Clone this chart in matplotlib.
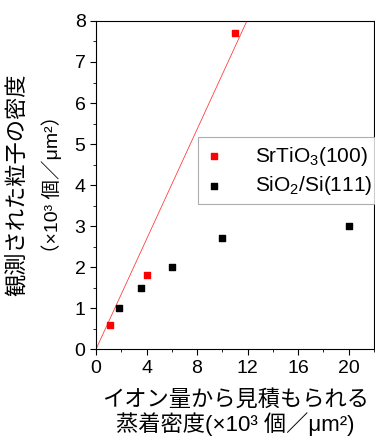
import numpy as np
import matplotlib
matplotlib.use("Agg")
import matplotlib.pyplot as plt
from matplotlib.ticker import MultipleLocator

plt.rcParams['font.family'] = ['Liberation Sans', 'Noto Sans CJK JP']
plt.rcParams['mathtext.fontset'] = 'custom'
plt.rcParams['mathtext.rm'] = 'Liberation Sans'
plt.rcParams['mathtext.it'] = 'Liberation Sans'

# data (x: ×10^3 個/μm², y: ×10^3 個/μm²)
sto_x = [1.1, 4.0, 11.0]
sto_y = [0.6, 1.8, 7.7]
sio_x = [1.8, 3.6, 6.0, 10.0, 20.0]
sio_y = [1.0, 1.5, 2.0, 2.7, 3.0]

sto_label = "SrTiO$_3$(100)"
sio_label = "SiO$_2$/Si(111)"

fig = plt.figure(figsize=(3.75, 4.37), dpi=100)
ax = fig.add_axes([0.256, 0.201, 0.741, 0.751])

# least squares line through origin for SrTiO3
sx = np.array(sto_x)
sy = np.array(sto_y)
slope = (sx * sy).sum() / (sx * sx).sum()
xl = np.array([0, 22])
ax.plot(xl, slope * xl, color='red', lw=0.6, alpha=0.75)

ax.scatter(sto_x, sto_y, marker='s', s=24, color='red', label=sto_label, zorder=3)
ax.scatter(sio_x, sio_y, marker='s', s=24, color='black', label=sio_label, zorder=3)

ax.set_xlim(0, 22)
ax.set_ylim(0, 8)
ax.xaxis.set_major_locator(MultipleLocator(4))
ax.xaxis.set_minor_locator(MultipleLocator(2))
ax.yaxis.set_major_locator(MultipleLocator(1))
ax.yaxis.set_minor_locator(MultipleLocator(0.5))
ax.tick_params(which='both', direction='out', labelsize=14, top=False, right=False)
ax.tick_params(which='major', length=4)
ax.tick_params(which='minor', length=2.5)

leg = ax.legend(loc='upper left', bbox_to_anchor=(0.367, 0.645), fontsize=15,
                frameon=True, fancybox=False, edgecolor='#999999',
                handletextpad=1.6, borderpad=0.35, labelspacing=0.3,
                handlelength=0.8, scatterpoints=1, markerscale=0.8,
                borderaxespad=0)
leg.get_frame().set_linewidth(0.8)

fig.text(0.045, 0.577, "観測された粒子の密度", rotation=90, fontsize=16,
         ha='center', va='center')
fig.text(0.138, 0.577, "（×10³ 個／μm²）", rotation=90, fontsize=14,
         ha='center', va='center')
fig.text(0.627, 0.085, "イオン量から見積もられる", fontsize=16,
         ha='center', va='center')
fig.text(0.627, 0.03, "蒸着密度(×10³ 個／μm²)", fontsize=16,
         ha='center', va='center')

fig.savefig("out.png", dpi=100)
